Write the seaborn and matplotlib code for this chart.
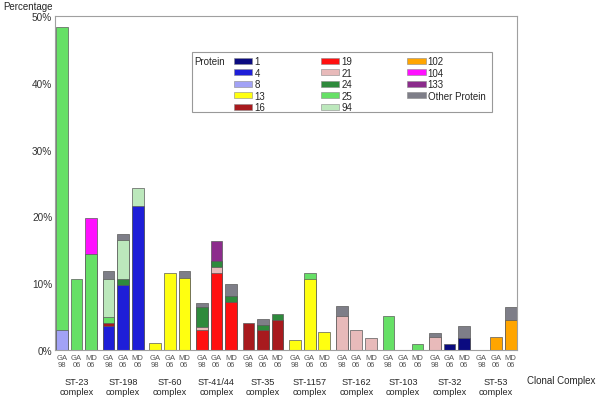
import numpy as np
import pandas as pd
import matplotlib
matplotlib.use("Agg")
import matplotlib.pyplot as plt
from matplotlib.patches import Patch, Rectangle
import seaborn as sns

# clonal complexes, each with three isolate sets
complexes = ["ST-23", "ST-198", "ST-60", "ST-41/44", "ST-35",
             "ST-1157", "ST-162", "ST-103", "ST-32", "ST-53"]
sets = ["GA\n98", "GA\n06", "MD\n06"]

# percentage per protein, one value per bar (complex x set)
p1 =    [0, 0, 0,  0, 0, 0,  0, 0, 0,  0, 0, 0,  0, 0, 0,  0, 0, 0,  0, 0, 0,  0, 0, 0,  0, 0.9, 1.8,  0, 0, 0]
p4 =    [0, 0, 0,  3.6, 9.7, 21.6,  0, 0, 0,  0, 0, 0,  0, 0, 0,  0, 0, 0,  0, 0, 0,  0, 0, 0,  0, 0, 0,  0, 0, 0]
p8 =    [3.0, 0, 0,  0, 0, 0,  0, 0, 0,  0, 0, 0,  0, 0, 0,  0, 0, 0,  0, 0, 0,  0, 0, 0,  0, 0, 0,  0, 0, 0]
p13 =   [0, 0, 0,  0, 0, 0,  1.05, 11.6, 10.8,  0, 0, 0,  0, 0, 0,  1.5, 10.6, 2.7,  0, 0, 0,  0, 0, 0,  0, 0, 0,  0, 0, 0]
p16 =   [0, 0, 0,  0.5, 0, 0,  0, 0, 0,  0, 0, 0,  4.1, 3.0, 4.5,  0, 0, 0,  0, 0, 0,  0, 0, 0,  0, 0, 0,  0, 0, 0]
p19 =   [0, 0, 0,  0, 0, 0,  0, 0, 0,  3.0, 11.6, 7.2,  0, 0, 0,  0, 0, 0,  0, 0, 0,  0, 0, 0,  0, 0, 0,  0, 0, 0]
p21 =   [0, 0, 0,  0, 0, 0,  0, 0, 0,  0.4, 0.8, 0,  0, 0, 0,  0, 0, 0,  5.1, 3.0, 1.8,  0, 0, 0,  2.0, 0, 0,  0, 0, 0]
p24 =   [0, 0, 0,  0, 0.9, 0,  0, 0, 0,  3.1, 0.9, 0.9,  0, 0.8, 0.9,  0, 0, 0,  0, 0, 0,  0, 0, 0,  0, 0, 0,  0, 0, 0]
p25 =   [45.3, 10.6, 14.4,  0.9, 0, 0,  0, 0, 0,  0, 0, 0,  0, 0, 0,  0, 0.9, 0,  0, 0, 0,  5.1, 0, 0.9,  0, 0, 0,  0, 0, 0]
p94 =   [0, 0, 0,  5.6, 5.8, 2.7,  0, 0, 0,  0, 0, 0,  0, 0, 0,  0, 0, 0,  0, 0, 0,  0, 0, 0,  0, 0, 0,  0, 0, 0]
p102 =  [0, 0, 0,  0, 0, 0,  0, 0, 0,  0, 0, 0,  0, 0, 0,  0, 0, 0,  0, 0, 0,  0, 0, 0,  0, 0, 0,  0, 2.0, 4.5]
p104 =  [0, 0, 5.4,  0, 0, 0,  0, 0, 0,  0, 0, 0,  0, 0, 0,  0, 0, 0,  0, 0, 0,  0, 0, 0,  0, 0, 0,  0, 0, 0]
p133 =  [0, 0, 0,  0, 0, 0,  0, 0, 0,  0, 3.0, 0,  0, 0, 0,  0, 0, 0,  0, 0, 0,  0, 0, 0,  0, 0, 0,  0, 0, 0]
other = [0, 0, 0,  1.2, 1.0, 0,  0, 0, 1.0,  0.5, 0, 1.8,  0, 0.9, 0,  0, 0, 0,  1.5, 0, 0,  0, 0, 0,  0.5, 0, 1.8,  0, 0, 1.9]

proteins = ["1", "4", "8", "13", "16", "19", "21", "24", "25", "94",
            "102", "104", "133", "Other Protein"]
values = [p1, p4, p8, p13, p16, p19, p21, p24, p25, p94, p102, p104, p133, other]
colors = ["#0b0b80", "#1e1ed8", "#a2a2f6", "#ffff10", "#a81a1e", "#ff1010",
          "#e8baba", "#2e8a3c", "#66e066", "#bce8bc", "#ffa500", "#ff10ff",
          "#8c2c8c", "#7e7e88"]
palette = dict(zip(proteins, colors))

# bar positions: three bars per complex, small gap between complexes
group_pitch = 3.2
pos = [g * group_pitch + j for g in range(len(complexes)) for j in range(3)]

# long table of cumulative tops for stacking
rows = []
for i, x in enumerate(pos):
    top = 0.0
    for name, vals in zip(proteins, values):
        if vals[i] > 0:
            top += vals[i]
            rows.append({"pos": x, "protein": name, "top": top})
df = pd.DataFrame(rows)

sns.set_style("white")
plt.rcParams["font.family"] = ["Liberation Sans", "DejaVu Sans"]

fig = plt.figure(figsize=(6, 4.02), dpi=100)
ax = fig.add_axes([55 / 600, 51 / 402, 462 / 600, 334 / 402])

sns.barplot(data=df, x="pos", y="top", hue="protein", hue_order=proteins[::-1],
            palette=palette, saturation=1, dodge=False, native_scale=True, width=0.8,
            errorbar=None, edgecolor="#5a5a5a", linewidth=0.5, legend=False, ax=ax)

ax.set_xlim(-0.48, pos[-1] + 0.43)
ax.set_ylim(0, 50)
ax.set_xlabel("")
ax.set_ylabel("")
ax.set_xticks(pos)
ax.set_xticklabels(sets * len(complexes), fontsize=5.5, color="#555555", linespacing=0.95)
ax.tick_params(axis="x", length=0, pad=3)
ax.set_yticks(range(0, 51, 10))
ax.set_yticklabels([f"{v}%" for v in range(0, 51, 10)], fontsize=7.2, color="#333333")
ax.tick_params(axis="y", direction="in", length=2.5, pad=2, color="#999999")
for s in ax.spines.values():
    s.set_color("#a0a0a0")
    s.set_linewidth(0.8)

# complex names under each group
for g, name in enumerate(complexes):
    ax.annotate(f"{name}\ncomplex", xy=(g * group_pitch + 1, 0),
                xycoords=("data", "axes fraction"), xytext=(0, -19.5),
                textcoords="offset points", ha="center", va="top",
                fontsize=6.6, linespacing=1.2)

fig.text(527 / 600, 1 - 381.5 / 402, "Clonal Complex", fontsize=7, ha="left", va="center")
fig.text(3 / 600, 1 - 7.5 / 402, "Percentage", fontsize=7, ha="left", va="center")

# legend with "Protein" caption inside a shared frame
ax.add_patch(Rectangle((0.2972, 0.7117), 0.6494, 0.1796, transform=ax.transAxes,
                       facecolor="white", edgecolor="#999999", linewidth=0.8, zorder=4))
ax.text(0.3024, 0.866, "Protein", transform=ax.transAxes, fontsize=7,
        va="center", ha="left", zorder=6)
handles = [Patch(facecolor=c, edgecolor="#8a8a8a", linewidth=0.4) for c in colors]
ax.legend(handles, proteins, ncol=3, loc="upper left", bbox_to_anchor=(0.3874, 0.88),
          frameon=False, fontsize=7, handlelength=1.9, handleheight=0.62,
          handletextpad=0.2, columnspacing=5.7, labelspacing=0.16,
          borderpad=0, borderaxespad=0)

fig.savefig("out.png", dpi=100)
